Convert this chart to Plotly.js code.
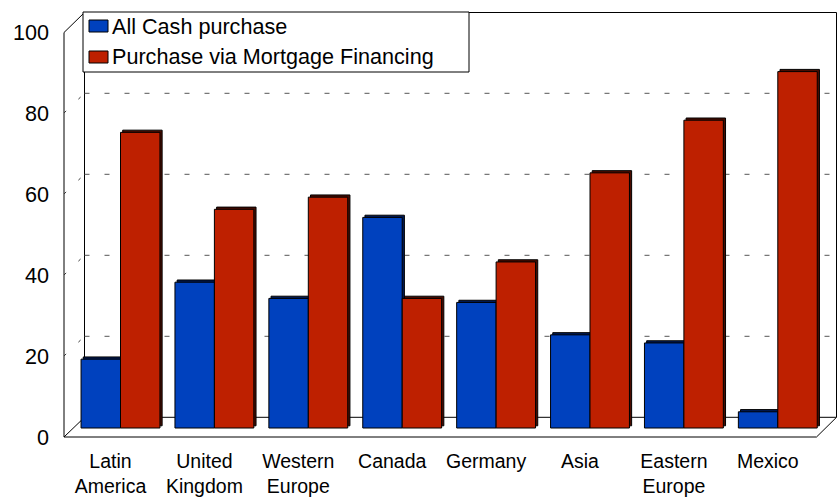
<!DOCTYPE html>
<html><head><meta charset="utf-8">
<script src="https://cdn.plot.ly/plotly-3.0.1.min.js"></script>
<style>html,body{margin:0;padding:0;background:#fff}</style>
</head><body>
<div id="chart" style="width:840px;height:500px"></div>
<script>
// ---- data ----
const categories = ['Latin<br>America','United<br>Kingdom','Western<br>Europe','Canada','Germany','Asia','Eastern<br>Europe','Mexico'];
const cashValues = [17, 36, 32, 52, 31, 23, 21, 4];
const mortgageValues = [73, 54, 57, 32, 41, 63, 76, 88];
const seriesNames = ['All Cash purchase', 'Purchase via Mortgage Financing'];
const yTickValues = [0, 20, 40, 60, 80, 100];
const yTickLabels = ['0', '20', '40', '60', '80', '100'];
const gridValues = [20, 40, 60, 80];

// ---- styling / geometry ----
const W = 840, H = 500, L = 60, R = 0, T = 5, B = 55;
const plotW = W - L - R, plotH = H - T - B;
const catPx = 93.9, cat0Px = 120.5;       // pixel spacing of categories
const unitPx = 4.05, zeroPx = 428;        // bar scale
const blue = '#0041BE', red = '#BE2000';
const blueDark = '#001A55', redDark = '#4A0C00';
const barW = 0.42, depthX = 2.2 / catPx, depthY = 2.2 / unitPx;
const backShift = 10.7, frontShift = -9;   // pixel offsets of back wall / front edge vs bar depth

const px = x => (x - L) / plotW;
const py = y => (H - B - y) / plotH;

const xRange = [(L - cat0Px) / catPx, (W - R - cat0Px) / catPx];
const yRange = [(zeroPx - (H - B)) / unitPx, (zeroPx - T) / unitPx];

const traces = [
  {type:'bar', x:categories, y:cashValues, base:depthY, offset:-barW + depthX, width:barW,
   marker:{color:blueDark, line:{color:'#000', width:1}}, showlegend:false, hoverinfo:'skip'},
  {type:'bar', x:categories, y:mortgageValues, base:depthY, offset:depthX, width:barW,
   marker:{color:redDark, line:{color:'#000', width:1}}, showlegend:false, hoverinfo:'skip'},
  {type:'bar', name:seriesNames[0], x:categories, y:cashValues, offset:-barW, width:barW,
   marker:{color:blue, line:{color:'#000', width:1}}, showlegend:false},
  {type:'bar', name:seriesNames[1], x:categories, y:mortgageValues, offset:0, width:barW,
   marker:{color:red, line:{color:'#000', width:1}}, showlegend:false}
];

const frameLine = {color:'#000', width:1};
const shapes = [];
function pline(x0, y0, x1, y1) {
  shapes.push({type:'line', xref:'paper', yref:'paper', x0:px(x0), y0:py(y0), x1:px(x1), y1:py(y1),
               line:frameLine, layer:'below'});
}
// back wall
shapes.push({type:'rect', xref:'paper', yref:'paper', x0:px(84.5), x1:px(836.5), y0:py(417.3), y1:py(12.5),
             line:frameLine, fillcolor:'rgba(0,0,0,0)', layer:'below'});
// left wall and floor outline
pline(64, 437, 64, 32.5);
pline(64, 32.5, 84.5, 12.5);
pline(64, 437, 84.5, 417.3);
pline(64, 437, 816.5, 437);
pline(816.5, 437, 836.5, 417.3);
// gridlines on back wall and side wall
gridValues.forEach(v => {
  shapes.push({type:'line', xref:'paper', yref:'y', ysizemode:'pixel', yanchor:v,
               x0:px(84.5), x1:px(836.5), y0:backShift, y1:backShift,
               line:{color:'#555', width:1, dash:'5px,15px'}, layer:'below'});
  shapes.push({type:'line', xref:'paper', yref:'y', ysizemode:'pixel', yanchor:v,
               x0:px(64), x1:px(84.5), y0:frontShift, y1:backShift,
               line:{color:'#333', width:1, dash:'3px,17px'}, layer:'below'});
});
// legend box and swatches
shapes.push({type:'rect', xref:'paper', yref:'paper', x0:px(83), x1:px(469), y0:py(72), y1:py(12),
             line:{color:'#000', width:1}, fillcolor:'#fff', layer:'above'});
shapes.push({type:'rect', xref:'paper', yref:'paper', x0:px(89), x1:px(108), y0:py(32), y1:py(20),
             line:{color:'#000', width:1}, fillcolor:blue, layer:'above'});
shapes.push({type:'rect', xref:'paper', yref:'paper', x0:px(89), x1:px(108), y0:py(63), y1:py(51),
             line:{color:'#000', width:1}, fillcolor:red, layer:'above'});

const font = {family:'"Liberation Sans", Arial, sans-serif', size:21.6, color:'#000'};
const xFont = {family:'"Liberation Sans", Arial, sans-serif', size:19.5, color:'#000'};
const annotations = [
  {xref:'paper', yref:'paper', x:px(111), y:py(26), xanchor:'left', yanchor:'middle',
   text:seriesNames[0], showarrow:false, font:font, borderpad:0},
  {xref:'paper', yref:'paper', x:px(111), y:py(57), xanchor:'left', yanchor:'middle',
   text:seriesNames[1], showarrow:false, font:font, borderpad:0}
];

const layout = {
  width:W, height:H,
  margin:{l:L, r:R, t:T, b:B, pad:0},
  paper_bgcolor:'#fff', plot_bgcolor:'#fff',
  barmode:'overlay',
  font:font,
  xaxis:{type:'category', range:xRange, showgrid:false, zeroline:false, showline:false,
         ticks:'', tickfont:xFont, ticklabelshift:-10, ticklabelstandoff:2, fixedrange:true},
  yaxis:{range:yRange, tickvals:yTickValues, ticktext:yTickLabels, showgrid:false, zeroline:false,
         showline:false, ticks:'', tickfont:font, ticklabelshift:9, ticklabelstandoff:10, fixedrange:true},
  shapes:shapes,
  annotations:annotations,
  showlegend:false
};

Plotly.newPlot('chart', traces, layout, {displayModeBar:false, staticPlot:true});
</script>
</body></html>
